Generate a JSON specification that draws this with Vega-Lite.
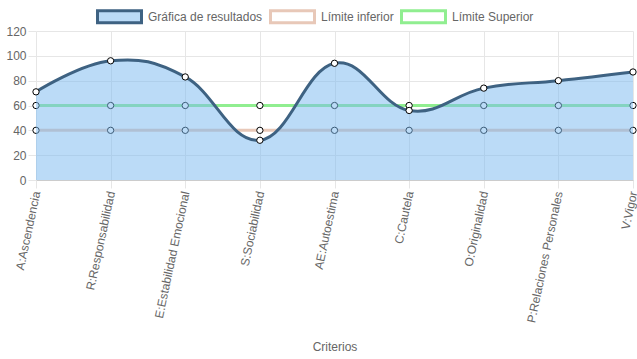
{
  "$schema": "https://vega.github.io/schema/vega-lite/v6.json",
  "width": 597,
  "height": 149,
  "autosize": {"type": "none"},
  "padding": {"left": 36, "top": 31, "right": 4, "bottom": 179},
  "config": {
    "view": {"stroke": null},
    "font": "Liberation Sans",
    "legend": {
      "orient": "none",
      "legendX": 60,
      "legendY": -38,
      "direction": "horizontal",
      "symbolType": "M-1,-0.27H1V0.27H-1Z",
      "symbolSize": 1936,
      "symbolStrokeWidth": 3,
      "labelFontSize": 12,
      "labelColor": "#666666",
      "labelFont": "Liberation Sans",
      "labelOffset": 5,
      "columnPadding": 1,
      "padding": 0
    }
  },
  "data": {
    "values": [
      {"criterio": "A:Ascendencia", "serie": "Gráfica de resultados", "valor": 71},
      {"criterio": "R:Responsabilidad", "serie": "Gráfica de resultados", "valor": 96},
      {"criterio": "E:Estabilidad Emocional", "serie": "Gráfica de resultados", "valor": 83},
      {"criterio": "S:Sociabilidad", "serie": "Gráfica de resultados", "valor": 32},
      {"criterio": "AE:Autoestima", "serie": "Gráfica de resultados", "valor": 94},
      {"criterio": "C:Cautela", "serie": "Gráfica de resultados", "valor": 56},
      {"criterio": "O:Originalidad", "serie": "Gráfica de resultados", "valor": 74},
      {"criterio": "P:Relaciones Personales", "serie": "Gráfica de resultados", "valor": 80},
      {"criterio": "V:Vigor", "serie": "Gráfica de resultados", "valor": 87},
      {"criterio": "A:Ascendencia", "serie": "Límite inferior", "valor": 40},
      {"criterio": "R:Responsabilidad", "serie": "Límite inferior", "valor": 40},
      {"criterio": "E:Estabilidad Emocional", "serie": "Límite inferior", "valor": 40},
      {"criterio": "S:Sociabilidad", "serie": "Límite inferior", "valor": 40},
      {"criterio": "AE:Autoestima", "serie": "Límite inferior", "valor": 40},
      {"criterio": "C:Cautela", "serie": "Límite inferior", "valor": 40},
      {"criterio": "O:Originalidad", "serie": "Límite inferior", "valor": 40},
      {"criterio": "P:Relaciones Personales", "serie": "Límite inferior", "valor": 40},
      {"criterio": "V:Vigor", "serie": "Límite inferior", "valor": 40},
      {"criterio": "A:Ascendencia", "serie": "Límite Superior", "valor": 60},
      {"criterio": "R:Responsabilidad", "serie": "Límite Superior", "valor": 60},
      {"criterio": "E:Estabilidad Emocional", "serie": "Límite Superior", "valor": 60},
      {"criterio": "S:Sociabilidad", "serie": "Límite Superior", "valor": 60},
      {"criterio": "AE:Autoestima", "serie": "Límite Superior", "valor": 60},
      {"criterio": "C:Cautela", "serie": "Límite Superior", "valor": 60},
      {"criterio": "O:Originalidad", "serie": "Límite Superior", "valor": 60},
      {"criterio": "P:Relaciones Personales", "serie": "Límite Superior", "valor": 60},
      {"criterio": "V:Vigor", "serie": "Límite Superior", "valor": 60}
    ]
  },
  "encoding": {
    "x": {
      "field": "criterio",
      "type": "ordinal",
      "sort": null,
      "scale": {
        "type": "point",
        "padding": 0,
        "domain": ["A:Ascendencia", "R:Responsabilidad", "E:Estabilidad Emocional", "S:Sociabilidad", "AE:Autoestima", "C:Cautela", "O:Originalidad", "P:Relaciones Personales", "V:Vigor"]
      },
      "axis": {
        "title": "Criterios",
        "titleColor": "#666666",
        "titleFontSize": 12,
        "titleFontWeight": "normal",
        "titleFont": "Liberation Sans",
        "titleY": 161,
        "labelAngle": -78,
        "labelAlign": "right",
        "labelBaseline": "middle",
        "labelColor": "#666666",
        "labelFontSize": 12,
        "labelFont": "Liberation Sans",
        "labelPadding": 3,
        "labelDy": -3,
        "tickSize": 8,
        "tickColor": "#e6e6e6",
        "grid": true,
        "gridColor": "#e6e6e6",
        "domainColor": "#cccccc",
        "domainWidth": 1,
        "labelOverlap": false
      }
    },
    "y": {
      "field": "valor",
      "type": "quantitative",
      "scale": {"domain": [0, 120], "nice": false},
      "axis": {
        "title": null,
        "values": [0, 20, 40, 60, 80, 100, 120],
        "labelColor": "#666666",
        "labelFontSize": 12,
        "labelFont": "Liberation Sans",
        "labelPadding": 2,
        "tickSize": 8,
        "tickColor": "#e6e6e6",
        "gridColor": "#e6e6e6",
        "domain": false
      }
    }
  },
  "layer": [
    {
      "transform": [{"filter": "datum.serie !== 'Gráfica de resultados'"}],
      "mark": {"type": "line", "strokeWidth": 3},
      "encoding": {
        "detail": {"field": "serie"},
        "stroke": {
          "field": "serie",
          "type": "nominal",
          "scale": {
            "domain": ["Gráfica de resultados", "Límite inferior", "Límite Superior"],
            "range": ["#3e6282", "#e8c8b8", "#90ee90"]
          },
          "legend": {"title": null}
        }
      }
    },
    {
      "transform": [{"filter": "datum.serie !== 'Gráfica de resultados'"}],
      "mark": {"type": "point", "filled": true, "fill": "#ffffff", "stroke": "#000000", "strokeWidth": 1, "size": 40, "opacity": 1}
    },
    {
      "transform": [{"filter": "datum.serie === 'Gráfica de resultados'"}],
      "mark": {"type": "area", "interpolate": "cardinal", "tension": -0.2, "fillOpacity": 0.5},
      "encoding": {
        "fill": {
          "field": "serie",
          "type": "nominal",
          "scale": {
            "domain": ["Gráfica de resultados", "Límite inferior", "Límite Superior"],
            "range": ["#77b8f0", "#ffffff", "#ffffff"]
          },
          "legend": {
            "title": null,
            "symbolStrokeWidth": 3,
            "encode": {"symbols": {"update": {"fillOpacity": {"value": 0.5}, "strokeOpacity": {"value": 1}}}}
          }
        }
      }
    },
    {
      "transform": [{"filter": "datum.serie === 'Gráfica de resultados'"}],
      "mark": {"type": "line", "interpolate": "cardinal", "tension": -0.2, "strokeWidth": 3},
      "encoding": {
        "stroke": {"field": "serie", "type": "nominal", "legend": {"title": null}}
      }
    },
    {
      "transform": [{"filter": "datum.serie === 'Gráfica de resultados'"}],
      "mark": {"type": "point", "filled": true, "fill": "#ffffff", "stroke": "#000000", "strokeWidth": 1, "size": 40, "opacity": 1}
    }
  ]
}
